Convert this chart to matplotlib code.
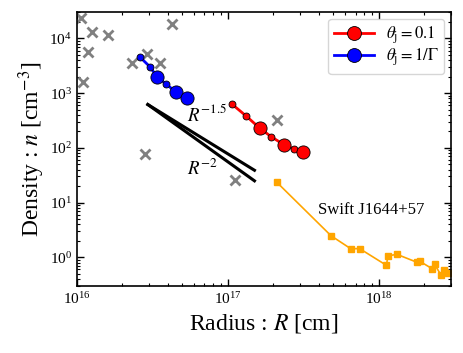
import numpy as np
import matplotlib
matplotlib.use("Agg")
import matplotlib.pyplot as plt

plt.rcParams['font.family'] = 'serif'
plt.rcParams['font.serif'] = ['Liberation Serif', 'DejaVu Serif']
plt.rcParams['mathtext.fontset'] = 'stix'

# Grey crosses (other data)
grey_R = [1.07e16, 1.26e16, 1.61e16, 1.18e16, 1.10e16, 4.28e16, 2.91e16, 2.33e16,
          3.53e16, 2.81e16, 2.10e17, 1.12e17]
grey_n = [2.4e4, 1.29e4, 1.15e4, 5.7e3, 1.6e3, 1.8e4, 5.2e3, 3.6e3,
          3.6e3, 77, 317, 25.6]

# theta_j = 0.1 (red)
red_R = [1.07e17, 1.32e17, 1.62e17, 1.93e17, 2.34e17, 2.75e17, 3.13e17]
red_n = [623, 383, 231, 161, 115, 95, 85]
red_big = [False, False, True, False, True, False, True]

# theta_j = 1/Gamma (blue)
blue_R = [2.6e16, 3.06e16, 3.39e16, 3.91e16, 4.52e16, 5.35e16]
blue_n = [4650, 3000, 2000, 1460, 1050, 800]
blue_big = [False, False, True, False, True, True]

# Swift J1644+57 (orange)
swift_R = [2.1e17, 4.82e17, 6.5e17, 7.46e17, 1.12e18, 1.15e18, 1.32e18, 1.79e18,
           1.86e18, 2.25e18, 2.34e18, 2.57e18, 2.69e18, 2.85e18]
swift_n = [23.8, 2.48, 1.44, 1.44, 0.716, 1.07, 1.13, 0.81,
           0.85, 0.62, 0.74, 0.48, 0.58, 0.52]

# Reference power laws
ref_R = [2.95e16, 1.5e17]
ref15_n = [620, 39]
ref2_n = [620, 25]

fig = plt.figure(figsize=(4.63, 3.53), dpi=100)
ax = fig.add_axes([0.166, 0.19, 0.808, 0.775])

ax.plot(grey_R, grey_n, ls='none', marker='x', color='grey', ms=7, mew=2)

ax.plot(ref_R, ref15_n, color='black', lw=2.2)
ax.plot(ref_R, ref2_n, color='black', lw=2.2)

ax.plot(swift_R, swift_n, color='orange', lw=1.2, marker='s', ms=4.5, mec='orange')

ax.plot(red_R, red_n, color='red', lw=2, marker='o', ms=5, mec='black', mew=0.6)
rb = [i for i, b in enumerate(red_big) if b]
ax.plot([red_R[i] for i in rb], [red_n[i] for i in rb], ls='none', marker='o', ms=9.5,
        color='red', mec='black', mew=0.6)
ax.plot(blue_R, blue_n, color='blue', lw=2, marker='o', ms=5, mec='black', mew=0.6)
bb = [i for i, b in enumerate(blue_big) if b]
ax.plot([blue_R[i] for i in bb], [blue_n[i] for i in bb], ls='none', marker='o', ms=9.5,
        color='blue', mec='black', mew=0.6)

# legend handles
h1, = ax.plot([], [], color='red', lw=2, marker='o', ms=10, mec='black', mew=0.6)
h2, = ax.plot([], [], color='blue', lw=2, marker='o', ms=10, mec='black', mew=0.6)
ax.legend([h1, h2], [r'$\theta_{\rm j} = 0.1$', r'$\theta_{\rm j} = 1/\Gamma$'],
          loc='upper right', fontsize=12, handlelength=2.4, borderpad=0.35,
          labelspacing=0.0, handletextpad=0.7, borderaxespad=0.4)

ax.text(5.4e16, 410, r'$R^{-1.5}$', fontsize=13.5, va='center', ha='left')
ax.text(5.4e16, 41, r'$R^{-2}$', fontsize=13.5, va='center', ha='left')
ax.text(3.95e17, 7.4, 'Swift J1644+57', fontsize=12, va='center', ha='left')

ax.set_xscale('log')
ax.set_yscale('log')
ax.set_xlim(1e16, 3e18)
ax.set_ylim(0.3, 3e4)
ax.set_xlabel(r'Radius : $R$ [cm]', fontsize=17, labelpad=4)
ax.set_ylabel(r'Density : $n$ [cm$^{-3}$]', fontsize=17, labelpad=2)
ax.tick_params(which='both', direction='in', top=True, right=True, labelsize=11)
ax.tick_params(which='major', length=5, width=1)
ax.tick_params(which='minor', length=2.5, width=0.8)
for s in ax.spines.values():
    s.set_linewidth(1.2)

fig.savefig('out.png', dpi=100)
